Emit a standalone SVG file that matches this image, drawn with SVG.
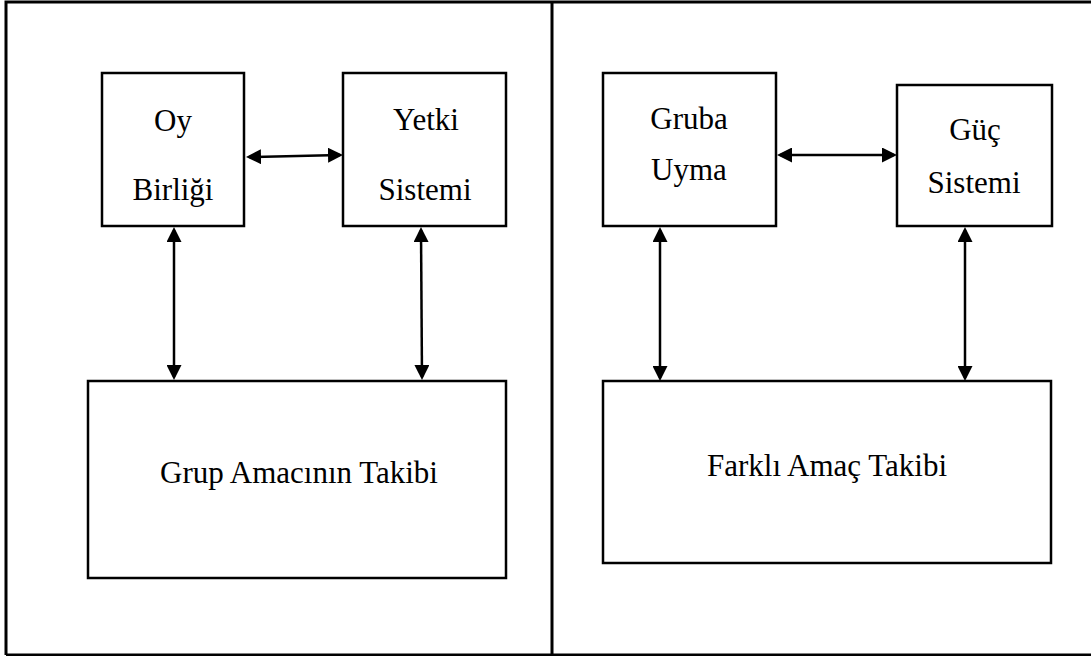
<svg xmlns="http://www.w3.org/2000/svg" width="1091" height="656" viewBox="0 0 1091 656">
<defs>
<style>
.frame{fill:none;stroke:#000;stroke-width:3}
.box{fill:#fff;stroke:#000;stroke-width:2.5}
.lbl{font-family:"Liberation Serif","Times New Roman",serif;font-size:31px;fill:#000;text-anchor:middle}
.conn{fill:none;stroke:#000;stroke-width:2.5;marker-start:url(#ah);marker-end:url(#ah)}
</style>
<marker id="ah" markerUnits="userSpaceOnUse" markerWidth="15" markerHeight="15" viewBox="0 0 15 15" refX="12" refY="7.5" orient="auto-start-reverse">
<path d="M0,0 L15,7.5 L0,15 z" fill="#000"/>
</marker>
</defs>
<rect width="1091" height="656" fill="#fff"/>
<g id="frame">
<path class="frame" d="M6,655 L6,2 L1091,2 M552,2 L552,655 M6,655 L1091,655"/>
</g>
<g id="connectors">
<line class="conn" x1="249" y1="157" x2="340" y2="155"/>
<line class="conn" x1="174" y1="230" x2="174" y2="377"/>
<line class="conn" x1="421" y1="230" x2="422" y2="377"/>
<line class="conn" x1="780" y1="155" x2="894" y2="155"/>
<line class="conn" x1="660" y1="230" x2="660" y2="378"/>
<line class="conn" x1="965" y1="230" x2="965" y2="378"/>
</g>
<g id="oy-birligi">
<rect class="box" x="102" y="73" width="142" height="153"/>
<text class="lbl" x="173" y="131">Oy</text>
<text class="lbl" x="173" y="200">Birliği</text>
</g>
<g id="yetki-sistemi">
<rect class="box" x="343" y="73" width="163" height="153"/>
<text class="lbl" x="426" y="130">Yetki</text>
<text class="lbl" x="425" y="200">Sistemi</text>
</g>
<g id="grup-amacinin-takibi">
<rect class="box" x="88" y="381" width="418" height="197"/>
<text class="lbl" x="299" y="483">Grup Amacının Takibi</text>
</g>
<g id="gruba-uyma">
<rect class="box" x="603" y="73" width="173" height="153"/>
<text class="lbl" x="689" y="129">Gruba</text>
<text class="lbl" x="689" y="180">Uyma</text>
</g>
<g id="guc-sistemi">
<rect class="box" x="897" y="85" width="155" height="141"/>
<text class="lbl" x="975" y="140">Güç</text>
<text class="lbl" x="974" y="193">Sistemi</text>
</g>
<g id="farkli-amac-takibi">
<rect class="box" x="603" y="381" width="448" height="182"/>
<text class="lbl" x="827" y="476">Farklı Amaç Takibi</text>
</g>
</svg>
